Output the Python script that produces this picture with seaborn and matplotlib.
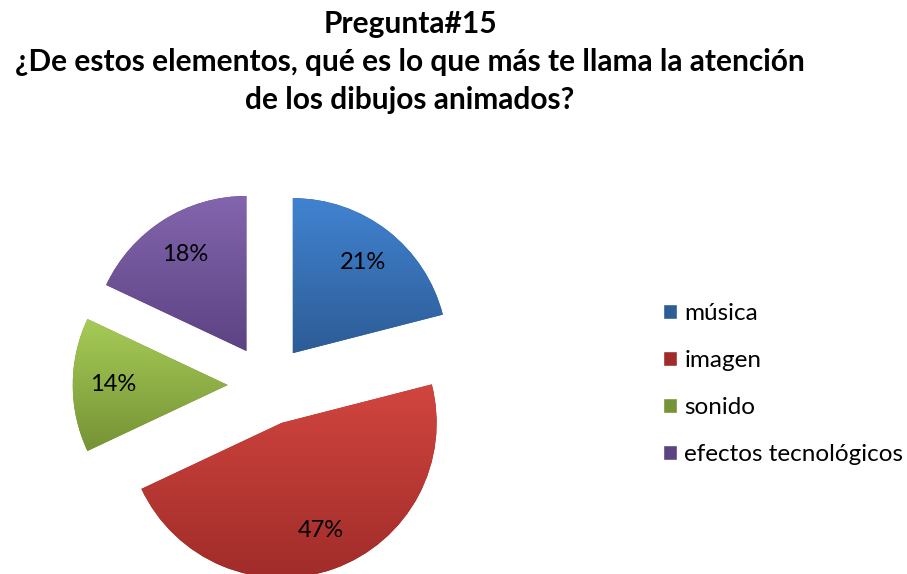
import numpy as np
import seaborn as sns
import matplotlib
matplotlib.use("Agg")
import matplotlib.pyplot as plt
from matplotlib.colors import LinearSegmentedColormap

# data
categories = ["música", "imagen", "sonido", "efectos tecnológicos"]
values = [21, 47, 14, 18]
title_lines = ["Pregunta#15",
               "¿De estos elementos, qué es lo que más te llama la atención",
               "de los dibujos animados?"]

# colours (top of gradient, bottom of gradient) - excel style
top_colors = ["#4183D1", "#D2453F", "#A6CB57", "#8365AD"]
bottom_colors = ["#2D5C96", "#A02C29", "#769335", "#5C4383"]

sns.set_style("white")
plt.rcParams['font.family'] = ['Lato', 'DejaVu Sans']
plt.rcParams['text.color'] = 'black'

fig = plt.figure(figsize=(9.07, 5.74), dpi=100)
W, H = 907, 574

# pie axes: 1 data unit = 155 px, centre at (268, 385) px from top-left
r_px = 155
cx, cy = 268, 385
half = 1.5 * r_px
ax = fig.add_axes([(cx - half) / W, (H - cy - half) / H, 2 * half / W, 2 * half / H])

wedges, texts, autotexts = ax.pie(
    values, colors=bottom_colors, startangle=90, counterclock=False,
    explode=[0.26] * len(values), autopct='%1.0f%%', pctdistance=0.74,
    textprops={'fontsize': 17, 'color': 'black'},
    wedgeprops={'linewidth': 0})

# vertical gradient inside each slice
grad = np.linspace(0, 1, 256).reshape(-1, 1)
for w, c_top, c_bot in zip(wedges, top_colors, bottom_colors):
    ext = w.get_path().get_extents()
    cmap = LinearSegmentedColormap.from_list("g", [c_bot, c_top])
    im = ax.imshow(grad, cmap=cmap, origin='lower', aspect='auto',
                   extent=[ext.x0, ext.x1, ext.y0, ext.y1], zorder=w.get_zorder() + 0.5)
    im.set_clip_path(w)
for t in autotexts:
    t.set_zorder(5)

ax.set_xlim(-1.5, 1.5)
ax.set_ylim(-1.5, 1.5)
ax.set_aspect('auto')
ax.axis('off')

# legend
handles = [plt.Rectangle((0, 0), 1, 1, facecolor=c) for c in bottom_colors]
fig.legend(handles, categories, loc='center left',
           bbox_to_anchor=(641 / W, 1 - 384 / H), frameon=False,
           fontsize=17.5, handlelength=0.58, handleheight=0.58,
           handletextpad=0.3, labelspacing=1.07, labelcolor='black')

# title
for line, base in zip(title_lines, [33, 71, 109]):
    fig.text(410 / W, 1 - base / H, line, ha='center', va='baseline',
             fontsize=21.5, fontweight='bold', color='black')

fig.savefig("out.png", dpi=100)
